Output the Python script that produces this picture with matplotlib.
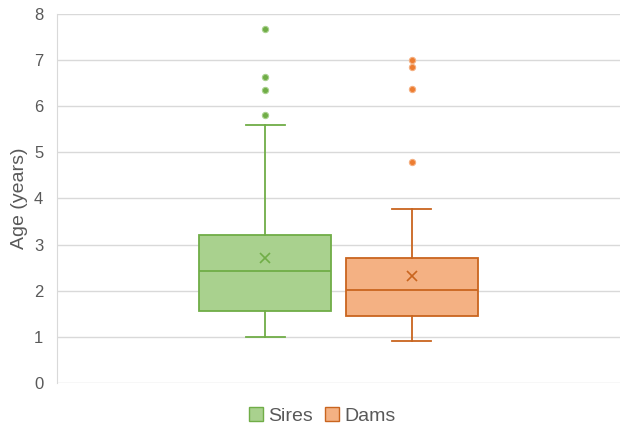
import matplotlib
matplotlib.use("Agg")
import matplotlib.pyplot as plt
from matplotlib.patches import Patch

plt.rcParams["font.family"] = ["Liberation Sans", "DejaVu Sans"]

# values
series = ["Sires", "Dams"]
whislo = [0.99, 0.91]
q1 = [1.57, 1.46]
med = [2.42, 2.01]
q3 = [3.20, 2.72]
whishi = [5.59, 3.78]
means = [2.72, 2.31]
outliers = [[5.80, 6.35, 6.63, 7.67], [4.80, 6.36, 6.85, 6.99]]
yticks = [0, 1, 2, 3, 4, 5, 6, 7, 8]

fills = ["#A9D18E", "#F4B183"]
edges = ["#70AD47", "#C9651F"]
outlier_cols = ["#70AD47", "#ED7D31"]
positions = [0.37, 0.63]

fig = plt.figure(figsize=(6.2, 4.3), dpi=100)
ax = fig.add_axes([0.092, 0.109, 0.908, 0.859])

for i, name in enumerate(series):
    stats = [{"label": name, "whislo": whislo[i], "q1": q1[i], "med": med[i],
              "q3": q3[i], "whishi": whishi[i], "mean": means[i],
              "fliers": outliers[i]}]
    ax.bxp(stats, positions=[positions[i]], widths=0.235, showmeans=True,
           patch_artist=True, manage_ticks=False,
           boxprops=dict(facecolor=fills[i], edgecolor=edges[i], linewidth=1.3),
           medianprops=dict(color=edges[i], linewidth=1.3),
           whiskerprops=dict(color=edges[i], linewidth=1.3),
           capprops=dict(color=edges[i], linewidth=1.3),
           capwidths=0.07,
           meanprops=dict(marker="x", markeredgecolor=edges[i], markersize=7,
                          markeredgewidth=1.2),
           flierprops=dict(marker="o", markerfacecolor=outlier_cols[i],
                           markeredgecolor=fills[i], markersize=4.5,
                           markeredgewidth=0.8))

ax.set_xlim(0, 1)
ax.set_ylim(0, 8)
ax.set_yticks(yticks)
ax.set_xticks([])
ax.yaxis.grid(True, color="#D9D9D9", linewidth=1)
ax.set_axisbelow(True)
for s in ["top", "right", "bottom"]:
    ax.spines[s].set_visible(False)
ax.spines["left"].set_color("#D9D9D9")
ax.tick_params(axis="y", length=0, labelsize=12, labelcolor="#595959", pad=10)
ax.set_ylabel("Age (years)", fontsize=14, color="#595959", labelpad=4)

handles = [Patch(facecolor=fills[i], edgecolor=edges[i], label=series[i])
           for i in range(len(series))]
fig.legend(handles=handles, loc="center", bbox_to_anchor=(0.52, 0.033), ncol=2,
           frameon=False, fontsize=14, handlelength=0.7, handleheight=0.7,
           handletextpad=0.3, columnspacing=0.6, labelcolor="#595959")

fig.savefig("out.png", dpi=100)
